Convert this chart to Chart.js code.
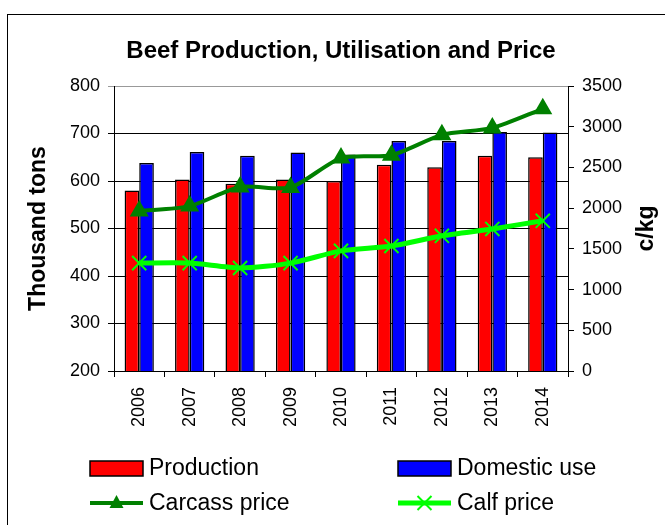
<!DOCTYPE html>
<html>
<head>
<meta charset="utf-8">
<script src="https://cdn.jsdelivr.net/npm/chart.js@4.4.1/dist/chart.umd.min.js"></script>
<style>
  html, body { margin: 0; padding: 0; background: #fff; }
  #wrap { width: 665px; height: 525px; position: relative; }
</style>
</head>
<body>
<div id="wrap"><canvas id="beefChart" width="665" height="525"></canvas></div>
<script>
const years = ['2006', '2007', '2008', '2009', '2010', '2011', '2012', '2013', '2014'];
const production = [580, 603, 594, 603, 600, 634, 629, 653, 650];
const domesticUse = [638, 661, 653, 660, 656, 684, 684, 703, 702];
const carcassPrice = [1965, 2025, 2260, 2255, 2615, 2650, 2900, 2985, 3220];
const calfPrice = [1325, 1325, 1265, 1325, 1475, 1535, 1660, 1745, 1845];

const FONT = "'Liberation Sans', Arial, sans-serif";

// titel, as-titels, legenda en kader zelf tekenen
const decorPlugin = {
    id: 'decor',
    afterDraw(chart) {
        const ctx = chart.ctx;
        const area = chart.chartArea;
        ctx.save();
        // kader
        ctx.strokeStyle = '#000';
        ctx.lineWidth = 1;
        ctx.strokeRect(7.5, 14.5, 720, 600);

        // titel
        ctx.fillStyle = '#000';
        ctx.textAlign = 'center';
        ctx.textBaseline = 'middle';
        ctx.font = 'bold 24px ' + FONT;
        ctx.fillText('Beef Production, Utilisation and Price', (area.left + area.right) / 2, 51);

        // as-titels
        const midY = (area.top + area.bottom) / 2;
        ctx.font = 'bold 23px ' + FONT;
        ctx.save();
        ctx.translate(39, midY);
        ctx.rotate(-Math.PI / 2);
        ctx.fillText('Thousand tons', 0, 0);
        ctx.restore();
        ctx.save();
        ctx.translate(647, midY);
        ctx.rotate(-Math.PI / 2);
        ctx.fillText('c/kg', 0, 0);
        ctx.restore();

        // legenda (2 kolommen)
        const cols = [90, 398];
        const rows = [468, 503];
        ctx.font = '23px ' + FONT;
        ctx.textAlign = 'left';
        chart.data.datasets.forEach((ds, i) => {
            const x = cols[i % 2];
            const y = rows[Math.floor(i / 2)];
            if (ds.type === 'bar') {
                ctx.fillStyle = ds.backgroundColor;
                ctx.fillRect(x, y - 7, 53, 15);
                ctx.strokeStyle = '#000';
                ctx.lineWidth = 1.5;
                ctx.strokeRect(x, y - 7, 53, 15);
            } else {
                ctx.strokeStyle = ds.borderColor;
                ctx.lineWidth = ds.borderWidth;
                ctx.beginPath();
                ctx.moveTo(x, y);
                ctx.lineTo(x + 53, y);
                ctx.stroke();
                const cx = x + 26.5;
                if (ds.pointStyle === 'triangle') {
                    ctx.fillStyle = ds.borderColor;
                    ctx.beginPath();
                    ctx.moveTo(cx, y - 8);
                    ctx.lineTo(cx + 7, y + 5);
                    ctx.lineTo(cx - 7, y + 5);
                    ctx.closePath();
                    ctx.fill();
                } else {
                    ctx.lineWidth = 2;
                    ctx.beginPath();
                    ctx.moveTo(cx - 7, y - 7); ctx.lineTo(cx + 7, y + 7);
                    ctx.moveTo(cx + 7, y - 7); ctx.lineTo(cx - 7, y + 7);
                    ctx.stroke();
                }
            }
            ctx.fillStyle = '#000';
            ctx.fillText(ds.label, x + 59, y + 1);
        });
        ctx.restore();
    }
};

const ctx = document.getElementById('beefChart').getContext('2d');
new Chart(ctx, {
    data: {
        labels: years,
        datasets: [
            {
                type: 'bar',
                label: 'Production',
                data: production,
                backgroundColor: '#ff0000',
                borderColor: '#000',
                borderWidth: 1.5,
                borderSkipped: false,
                yAxisID: 'y',
                categoryPercentage: 0.58,
                barPercentage: 1.0,
                order: 2
            },
            {
                type: 'bar',
                label: 'Domestic use',
                data: domesticUse,
                backgroundColor: '#0000ff',
                borderColor: '#000',
                borderWidth: 1.5,
                borderSkipped: false,
                yAxisID: 'y',
                categoryPercentage: 0.58,
                barPercentage: 1.0,
                order: 2
            },
            {
                type: 'line',
                label: 'Carcass price',
                data: carcassPrice,
                borderColor: '#008000',
                backgroundColor: '#008000',
                borderWidth: 4,
                pointStyle: 'triangle',
                pointRadius: 7,
                pointBackgroundColor: '#008000',
                pointBorderColor: '#008000',
                tension: 0.25,
                yAxisID: 'y1',
                order: 1
            },
            {
                type: 'line',
                label: 'Calf price',
                data: calfPrice,
                borderColor: '#00ff00',
                backgroundColor: '#00ff00',
                borderWidth: 5,
                pointStyle: 'crossRot',
                pointRadius: 10,
                pointBorderWidth: 2,
                pointBorderColor: '#00ff00',
                tension: 0.25,
                yAxisID: 'y1',
                order: 0
            }
        ]
    },
    options: {
        responsive: false,
        animation: false,
        layout: { padding: { top: 86, left: 0, right: 0, bottom: 0 } },
        plugins: {
            legend: { display: false },
            title: { display: false },
            tooltip: { enabled: false }
        },
        scales: {
            x: {
                grid: {
                    display: true,
                    offset: true,
                    drawOnChartArea: false,
                    drawTicks: true,
                    tickLength: 6,
                    color: '#000'
                },
                border: { display: true, color: '#000', width: 1 },
                ticks: {
                    color: '#000',
                    font: { family: FONT, size: 18 },
                    minRotation: 90,
                    maxRotation: 90,
                    autoSkip: false,
                    padding: 10
                },
                afterFit: s => { s.height = 154; }
            },
            y: {
                position: 'left',
                min: 200,
                max: 800,
                ticks: {
                    stepSize: 100,
                    color: '#000',
                    font: { family: FONT, size: 18 },
                    padding: 8,
                    callback: v => String(v)
                },
                grid: {
                    color: c => (c.tick && c.tick.value === 800 ? '#999' : '#000'),
                    lineWidth: 1,
                    tickLength: 6
                },
                border: { display: true, color: '#000', width: 1 },
                afterFit: s => { s.width = 114; }
            },
            y1: {
                position: 'right',
                min: 0,
                max: 3500,
                ticks: {
                    stepSize: 500,
                    color: '#000',
                    font: { family: FONT, size: 18 },
                    padding: 8,
                    callback: v => String(v)
                },
                grid: {
                    drawOnChartArea: false,
                    color: '#000',
                    tickLength: 6
                },
                border: { display: true, color: '#000', width: 1 },
                afterFit: s => { s.width = 97; }
            }
        }
    },
    plugins: [decorPlugin]
});
</script>
</body>
</html>
